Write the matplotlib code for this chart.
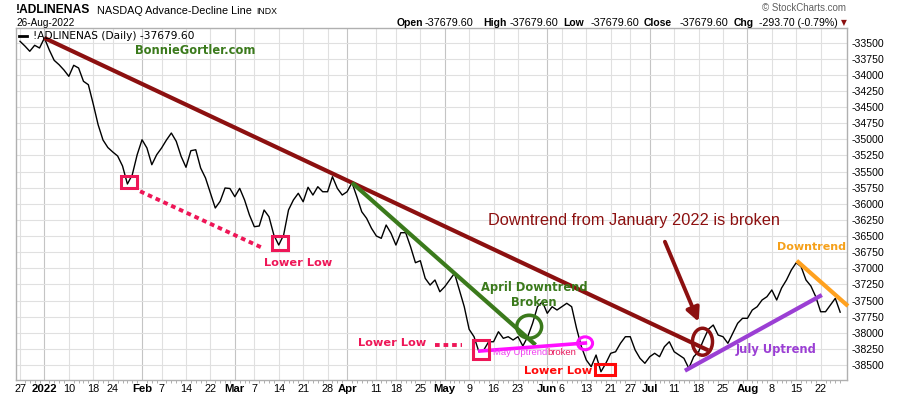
import matplotlib
matplotlib.use('Agg')
import matplotlib.pyplot as plt
from matplotlib.patches import Ellipse, Rectangle

# ---------------- data (trading-day index, Dec 27 2021 = -5, Jan 3 2022 = 0) -------------
days = list(range(-5, 164))
values = [
    -33481, -33554, -33636, -33543, -33585,
    -33430, -33616, -33776, -33844, -33926, -34024, -33853, -33895, -34101, -34154,
    -34453, -34774, -35011, -35128, -35197, -35259, -35414, -35693, -35549, -35239,
    -35007, -35135, -35394, -35239, -35135, -35011, -34903, -35031, -35264, -35434,
    -35177, -35162, -35445, -35600, -35833, -36065, -35961, -35755, -35763, -35890,
    -35760, -35941, -36174, -36355, -36344, -36096, -36200, -36484, -36639, -36484,
    -36096, -35941, -35837, -35968, -35744, -35864, -35735, -35813, -35813, -35580,
    -35760, -35864, -35813, -35673, -35890, -36123, -36225, -36380, -36499, -36535,
    -36329, -36457, -36639, -36448, -36448, -36665, -36913, -36882, -37155, -37259,
    -37181, -37363, -37285, -37181, -37077, -37336, -37595, -37945, -38060, -38293,
    -38266, -38138, -38138, -37983, -38085, -38060, -38111, -38060, -38204, -38060,
    -37852, -37595, -37518, -37697, -37595, -37646, -37595, -37542, -37595, -37930,
    -38215, -38421, -38525, -38344, -38603, -38472, -38317, -38293, -38162, -38060,
    -38060, -38266, -38395, -38472, -38370, -38317, -38370, -38215, -38138, -38293,
    -38344, -38395, -38550, -38370, -38293, -38111, -37945, -37879, -38034, -38060,
    -38162, -38007, -37852, -37775, -37775, -37646, -37595, -37491, -37440, -37336,
    -37491, -37305, -37181, -37026, -36913, -36975, -37181, -37274, -37440, -37673,
    -37673, -37569, -37465, -37679.6,
]

tick_pos = [-5, 0, 5, 10, 14, 20, 24, 29, 34, 39, 43, 48, 53, 58, 62, 68, 72, 77,
            82, 87, 92, 97, 103, 106, 111, 116, 120, 124, 129, 134, 139, 144, 149, 154, 159]
tick_labels = ['27', '2022', '10', '18', '24', 'Feb', '7', '14', '22', 'Mar', '7', '14', '21', '28',
               'Apr', '11', '18', '25', 'May', '9', '16', '23', 'Jun', '6', '13', '21', '27',
               'Jul', '11', '18', '25', 'Aug', '8', '15', '22']
major_labels = ['2022', 'Feb', 'Mar', 'Apr', 'May', 'Jun', 'Jul', 'Aug']
y_ticks = list(range(-38500, -33499, 250))

# ---------------- figure ----------------
W, H = 900, 396
fig = plt.figure(figsize=(9, 3.96), dpi=100)
fig.patch.set_facecolor('white')
L, R, T, B = 16, 847, 28, 380
ax = fig.add_axes([L / W, 1 - B / H, (R - L) / W, (B - T) / H])
ax.set_xlim(-5.82, 164.4)
ax.set_ylim(-38731, -33275)

SANS = ['Liberation Sans', 'DejaVu Sans']
VERD = ['DejaVu Sans']

def ftext(x, y, s, **kw):
    kw.setdefault('family', SANS)
    fig.text(x / W, 1 - y / H, s, **kw)

# grid
for p, lab in zip(tick_pos, tick_labels):
    ax.axvline(p, color='#C4C4C4' if lab in major_labels else '#E0E0E0', lw=0.8, zorder=0)
for yv in y_ticks:
    ax.axhline(yv, color='#E0E0E0', lw=0.8, zorder=0)

for s in ax.spines.values():
    s.set_color('#B0B0B0')
    s.set_linewidth(1)

ax.set_xticks(tick_pos)
ax.set_xticklabels(tick_labels, family=SANS, fontsize=7.8)
for t in ax.get_xticklabels():
    if t.get_text() in major_labels:
        t.set_fontweight('bold')
        t.set_fontsize(8.2)
ax.set_xticks(days, minor=True)
ax.tick_params(axis='x', which='major', length=0, pad=3)
ax.tick_params(axis='x', which='minor', length=2, color='#A0A0A0', width=0.6)

ax.yaxis.tick_right()
ax.set_yticks(y_ticks)
ax.set_yticklabels([f'-{abs(v)}' for v in y_ticks], family=SANS, fontsize=7.6)
ax.tick_params(axis='y', length=0, pad=3)

# main line
ax.plot(days, values, color='black', lw=1.0, zorder=5)

# ---------------- annotations ----------------
MAROON = '#8C1010'
GREEN = '#3B7A1C'
CRIMSON = '#EE1657'
RED = '#FF0A0A'
MAGENTA = '#FF10FF'
PURPLE = '#9B3FD4'
ORANGE = '#FFA11F'

# January downtrend (through Jan 3 peak and Apr 4 peak)
i0, i1 = 0, 63
v0, v1 = values[days.index(i0)], values[days.index(i1)]
slope = (v1 - v0) / (i1 - i0)
ax.plot([i0, 136.0], [v0, v0 + slope * 136.0], color=MAROON, lw=3, solid_capstyle='butt', zorder=6)

# April downtrend (through Apr 4 and May 3 peaks)
g0, g1 = 63, 84
gv0, gv1 = values[days.index(g0)], values[days.index(g1)]
gs = (gv1 - gv0) / (g1 - g0)
ax.plot([g0, 100.6], [gv0, gv0 + gs * (100.6 - g0)], color=GREEN, lw=3, solid_capstyle='butt', zorder=6)
ax.add_patch(Ellipse((99.3, -37905), 5.1, 356, fill=False, ec=GREEN, lw=2.5, zorder=7))
ax.text(100.3, -37290, 'April Downtrend', color=GREEN, family=VERD, fontweight='bold',
        fontsize=8.3, ha='center', va='center', zorder=8)
ax.text(100.3, -37530, 'Broken', color=GREEN, family=VERD, fontweight='bold',
        fontsize=8.3, ha='center', va='center', zorder=8)

# lower-low boxes
for cx, cy, w, h, c in [(17.27, -35662, 3.28, 186, CRIMSON), (48.27, -36608, 3.4, 217, CRIMSON),
                        (89.45, -38262, 3.4, 294, CRIMSON), (114.9, -38569, 4.1, 170, RED)]:
    ax.add_patch(Rectangle((cx - w / 2, cy - h / 2), w, h, fill=False, ec=c, lw=2.2, zorder=7))

ax.plot([19.6, 44.85], [-35806, -36690], color=CRIMSON, lw=2.8, ls=(0, (1.2, 1.0)), zorder=6)
ax.plot([80.0, 85.5], [-38189, -38189], color=CRIMSON, lw=2.8, ls=(0, (1.2, 1.0)), zorder=6)

ax.text(51.95, -36917, 'Lower Low', color=CRIMSON, family=VERD, fontweight='bold',
        fontsize=8.2, ha='center', va='center', zorder=8)
ax.text(71.15, -38153, 'Lower Low', color=CRIMSON, family=VERD, fontweight='bold',
        fontsize=8.2, ha='center', va='center', zorder=8)
ax.text(105.2, -38592, 'Lower Low', color=RED, family=VERD, fontweight='bold',
        fontsize=8.2, ha='center', va='center', zorder=8)

# May uptrend
ax.plot([89.2, 110.8], [-38282, -38158], color=MAGENTA, lw=2.6, zorder=6)
ax.add_patch(Ellipse((110.75, -38162), 3.07, 200, fill=False, ec=MAGENTA, lw=2.2, zorder=7))
ax.text(91.9, -38305, 'May Uptrend', color='#F040F0', family=SANS, fontsize=6.8,
        ha='left', va='center', zorder=8)
ax.text(103.0, -38305, 'broken', color='#E8175D', family=SANS, fontsize=6.8,
        ha='left', va='center', zorder=8)

# Downtrend broken
ax.text(120.8, -36251, 'Downtrend from January 2022 is broken', color=MAROON, family=SANS,
        fontsize=11.8, ha='center', va='center', zorder=8)
ax.annotate('', xy=(134.0, -37828), xytext=(127.1, -36588),
            arrowprops=dict(arrowstyle='-|>', color=MAROON, lw=2.8, mutation_scale=20,
                            shrinkA=0, shrinkB=0), zorder=8)
ax.add_patch(Ellipse((134.8, -38138), 4.1, 418, fill=False, ec=MAROON, lw=2.5, zorder=7))

# July uptrend
ax.plot([131.2, 159.25], [-38587, -37414], color=PURPLE, lw=3, solid_capstyle='butt', zorder=6)
ax.text(149.9, -38266, 'July Uptrend', color=PURPLE, family=VERD, fontweight='bold',
        fontsize=8.3, ha='center', va='center', zorder=8)

# August downtrend
ax.plot([154.1, 164.6], [-36882, -37584], color=ORANGE, lw=3, solid_capstyle='butt', zorder=6,
        clip_on=False)
ax.text(157.1, -36662, 'Downtrend', color='#F5A01A', family=VERD, fontweight='bold',
        fontsize=8, ha='center', va='center', zorder=8)

# watermark + legend
ax.text((195 - L) / (R - L), (B - 50) / (B - T), 'BonnieGortler.com', transform=ax.transAxes,
        color=GREEN, family=VERD, fontweight='bold', fontsize=8.3, ha='center', va='center', zorder=8)
ax.plot([(19 - L) / (R - L), (27 - L) / (R - L)], [(B - 36) / (B - T)] * 2, transform=ax.transAxes,
        color='black', lw=2, zorder=8)
ax.text((33 - L) / (R - L), (B - 36) / (B - T), '!ADLINENAS (Daily) -37679.60', transform=ax.transAxes,
        color='black', family=VERD, fontsize=7.7, ha='left', va='center', zorder=8)

# ---------------- header ----------------
ftext(16, 10, '!ADLINENAS', fontsize=8.7, fontweight='bold', va='center')
ftext(97, 10.5, 'NASDAQ Advance-Decline Line', fontsize=7.8, va='center')
ftext(256, 11, 'INDX', fontsize=6.3, va='center')
ftext(16, 22.5, '26-Aug-2022', fontsize=7.2, va='center')
ftext(846, 8, '\u00a9 StockCharts.com', fontsize=7, color='#606060', ha='right', va='center')
for x, s, bold in [(397, 'Open', True), (425, '-37679.60', False), (483, 'High', True),
                   (510, '-37679.60', False), (563, 'Low', True), (591, '-37679.60', False),
                   (644, 'Close', True), (680, '-37679.60', False), (734, 'Chg', True)]:
    ftext(x, 22.5, s, fontsize=7.5 if bold else 7.8, fontweight='bold' if bold else 'normal', va='center')
ftext(838, 22.5, '-293.70 (-0.79%)', fontsize=7.6, ha='right', va='center')
ftext(844, 22.5, '\u25bc', fontsize=5.5, color=MAROON, ha='center', va='center', family=VERD)

fig.savefig('out.png', dpi=100, facecolor='white')
